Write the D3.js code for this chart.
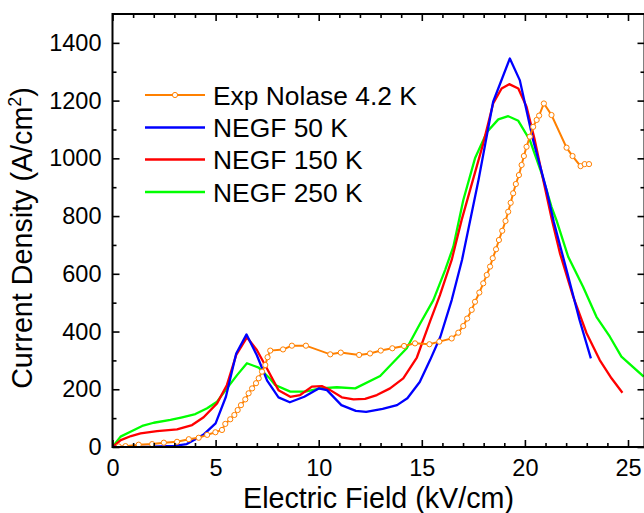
<!DOCTYPE html>
<html><head><meta charset="utf-8">
<script src="https://cdn.jsdelivr.net/npm/d3@7/dist/d3.min.js"></script>
<style>
body{margin:0;background:#fff;}
svg text{font-family:"Liberation Sans",Arial,Helvetica,sans-serif;fill:#000;}
</style></head>
<body><svg id="c" width="644" height="513"></svg>
<script>
// ---- data ----
const xTicks = [0, 5, 10, 15, 20, 25];
const yTicks = [0, 200, 400, 600, 800, 1000, 1200, 1400];
const seriesNames = ["Exp Nolase 4.2 K", "NEGF 50 K", "NEGF 150 K", "NEGF 250 K"];
const seriesColors = ["#FF8000", "#0000FF", "#FF0000", "#00FF00"];

const expX = [0.3,0.63,1.27,1.92,2.49,3.13,3.7,4.18,4.59,4.99,5.31,5.47,5.71,5.91,6.07,6.23,6.44,6.6,6.77,6.96,7.09,7.25,7.41,7.52,7.65,8.27,8.7,9.38,10.56,11.07,11.96,12.49,13.01,13.57,14.14,14.67,15.37,15.85,16.45,16.77,17.01,17.2,17.42,17.58,17.79,17.98,18.15,18.31,18.44,18.6,18.74,18.9,19.06,19.19,19.31,19.43,19.56,19.71,19.84,19.95,20.08,20.24,20.4,20.57,20.69,20.92,21.29,22.02,22.31,22.7,22.9,23.11];
const expY = [2,3,8,10,15,18,27,32,42,51,59,80,96,111,128,145,165,186,203,221,238,261,284,311,334,338,351,351,321,327,319,324,334,342,350,359,356,365,376,396,419,445,475,503,535,567,596,625,654,685,717,749,783,815,846,879,911,942,977,1008,1040,1075,1109,1133,1148,1190,1150,1037,1008,973,980,980];

const k50X = [0,1,2,3,3.6,4.4,5.0,5.5,6.0,6.5,7.0,7.5,8.05,8.6,9.3,10.0,10.4,11.1,11.8,12.3,13.1,13.8,14.3,14.9,15.4,15.9,16.45,16.95,17.35,17.75,18.46,19.27,19.75,20.4,21.05,21.4,22.02,22.65,23.2];
const k50Y = [0,0,1,4,10,42,82,174,324,390,318,230,172,155,174,203,197,145,125,122,132,145,169,225,301,382,509,648,786,925,1196,1346,1271,1063,890,780,613,440,307];

const k150X = [0,0.4,0.9,1.36,2.16,3.13,3.86,4.42,5.07,5.55,6.0,6.52,7.0,7.49,8.05,8.62,9.1,9.67,10.15,10.56,11.12,11.69,12.25,12.82,13.46,14.1,14.76,15.4,15.88,16.45,16.93,17.34,17.98,18.46,18.87,19.24,19.68,20.08,20.48,20.89,21.3,21.7,22.34,22.99,23.63,24.2,24.73];
const k150Y = [0,24,38,47,55,61,76,103,151,215,319,380,336,272,197,174,180,209,211,197,172,165,167,180,203,238,310,435,526,648,786,890,1052,1190,1242,1257,1242,1179,1063,925,790,671,521,394,301,238,188];

const k250X = [0,0.39,0.87,1.44,2.0,2.81,3.38,4.02,4.59,5.07,5.55,6.04,6.52,7.09,7.62,7.89,8.62,9.35,10.07,10.88,11.77,12.98,14.27,14.92,15.56,16.13,16.53,17.01,17.58,18.15,18.71,19.19,19.68,20.24,20.81,21.29,21.53,22.1,22.82,23.47,24.12,24.68,25.76];
const k250Y = [0,36,53,73,84,94,103,114,134,157,203,249,290,275,238,215,192,192,203,207,203,246,342,428,509,613,694,855,1000,1090,1135,1146,1130,1063,948,832,786,659,555,451,382,313,244];

// ---- layout ----
const svg = d3.select("#c");
const L = 112.5, R = 644.5, T = 14, B = 447;
const x = d3.scaleLinear().domain([0, 25.8]).range([L, R]);
const y = d3.scaleLinear().domain([0, 1500]).range([B, T]);

const zip = (xs, ys) => xs.map((v, i) => [v, ys[i]]);
const series = [zip(expX, expY), zip(k50X, k50Y), zip(k150X, k150Y), zip(k250X, k250Y)];

svg.append("defs").append("clipPath").attr("id", "clip")
  .append("rect").attr("x", L).attr("y", T).attr("width", R - L).attr("height", B - T);

const line = d3.line().x(d => x(d[0])).y(d => y(d[1]));
const g = svg.append("g").attr("clip-path", "url(#clip)");

[3, 2, 1].forEach(i => {
  g.append("path").datum(series[i]).attr("d", line)
    .attr("fill", "none").attr("stroke", seriesColors[i]).attr("stroke-width", 2.3)
    .attr("stroke-linejoin", "round");
});
g.append("path").datum(series[0]).attr("d", line)
  .attr("fill", "none").attr("stroke", seriesColors[0]).attr("stroke-width", 2);
g.selectAll("circle.exp").data(series[0]).enter().append("circle")
  .attr("class", "exp").attr("cx", d => x(d[0])).attr("cy", d => y(d[1])).attr("r", 2.6)
  .attr("fill", "#fff").attr("stroke", seriesColors[0]).attr("stroke-width", 1);

// ---- axes ----
const fs = "23.5px";
function styleAxis(sel) {
  sel.select(".domain").remove();
  sel.selectAll("line").attr("stroke", "#000").attr("stroke-width", 1.6);
}
const xMinor = d3.range(0, 26, 1).filter(v => v % 5 !== 0);
const yMinor = d3.range(100, 1500, 200);

const gb = svg.append("g").attr("transform", `translate(0,${B})`)
  .call(d3.axisBottom(x).tickValues(xTicks).tickSizeInner(-7).tickSizeOuter(0).tickFormat(d3.format("d")));
styleAxis(gb);
gb.selectAll("text").attr("y", 29).attr("dy", 0).style("font-size", fs);
svg.append("g").attr("transform", `translate(0,${B})`)
  .call(d3.axisBottom(x).tickValues(xMinor).tickSizeInner(-4).tickSizeOuter(0).tickFormat(""))
  .call(styleAxis);
svg.append("g").attr("transform", `translate(0,${T})`)
  .call(d3.axisTop(x).tickValues(xTicks).tickSizeInner(-7).tickSizeOuter(0).tickFormat(""))
  .call(styleAxis);
svg.append("g").attr("transform", `translate(0,${T})`)
  .call(d3.axisTop(x).tickValues(xMinor).tickSizeInner(-4).tickSizeOuter(0).tickFormat(""))
  .call(styleAxis);
const gl = svg.append("g").attr("transform", `translate(${L},0)`)
  .call(d3.axisLeft(y).tickValues(yTicks).tickSizeInner(-7).tickSizeOuter(0).tickPadding(11).tickFormat(d3.format("d")));
styleAxis(gl);
gl.selectAll("text").style("font-size", fs);
svg.append("g").attr("transform", `translate(${L},0)`)
  .call(d3.axisLeft(y).tickValues(yMinor).tickSizeInner(-4).tickSizeOuter(0).tickFormat(""))
  .call(styleAxis);
svg.append("g").attr("transform", `translate(${R},0)`)
  .call(d3.axisRight(y).tickValues(yTicks).tickSizeInner(-7).tickSizeOuter(0).tickFormat(""))
  .call(styleAxis);
svg.append("g").attr("transform", `translate(${R},0)`)
  .call(d3.axisRight(y).tickValues(yMinor).tickSizeInner(-4).tickSizeOuter(0).tickFormat(""))
  .call(styleAxis);

svg.append("rect").attr("x", L).attr("y", T).attr("width", R - L).attr("height", B - T)
  .attr("fill", "none").attr("stroke", "#000").attr("stroke-width", 2);

// axis titles
svg.append("text").attr("x", (L + R) / 2).attr("y", 508).attr("text-anchor", "middle")
  .style("font-size", "28.7px").text("Electric Field (kV/cm)");
const yt = svg.append("text").attr("transform", "translate(32,238) rotate(-90)")
  .attr("text-anchor", "middle").style("font-size", "28.7px");
yt.append("tspan").text("Current Density (A/cm");
yt.append("tspan").attr("dy", -11).style("font-size", "18px").text("2");
yt.append("tspan").attr("dy", 11).text(")");

// legend
const legY = [95, 127.5, 159.5, 192];
seriesNames.forEach((name, i) => {
  svg.append("line").attr("x1", 145).attr("x2", 205).attr("y1", legY[i]).attr("y2", legY[i])
    .attr("stroke", seriesColors[i]).attr("stroke-width", i === 0 ? 2 : 2.3);
  if (i === 0) {
    svg.append("circle").attr("cx", 175).attr("cy", legY[i]).attr("r", 2.6)
      .attr("fill", "#fff").attr("stroke", seriesColors[i]).attr("stroke-width", 1);
  }
  svg.append("text").attr("x", 213).attr("y", legY[i] + 9.5).style("font-size", "26.4px").text(name);
});
</script></body></html>
